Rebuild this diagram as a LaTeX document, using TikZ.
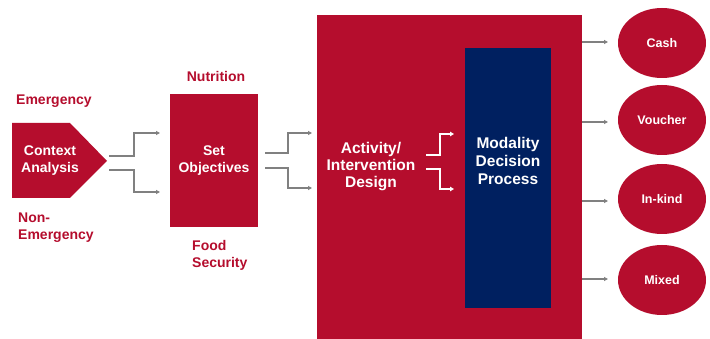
\documentclass[tikz,border=0pt]{standalone}
\usepackage{fontspec}
\setmainfont{Liberation Sans}
\usetikzlibrary{arrows.meta,shapes.geometric}
\definecolor{wfpred}{HTML}{B50D2D}
\definecolor{wfpnavy}{HTML}{002060}
\definecolor{arrgray}{HTML}{808080}
\begin{document}
\begin{tikzpicture}[x=1pt,y=-1pt,
  lbl/.style={font=\bfseries\fontsize{14}{17}\selectfont, text=wfpred, align=left, inner sep=0},
  wlbl/.style={font=\bfseries\fontsize{14}{17}\selectfont, text=white, align=center, inner sep=0},
  blbl/.style={font=\bfseries\fontsize{15.5}{18}\selectfont, text=white, align=center, inner sep=0},
  garrow/.style={draw=arrgray, line width=1.1pt, -{Triangle[length=4pt,width=4pt]}},
  warrow/.style={draw=white, line width=1.4pt, -{Triangle[length=4pt,width=4.5pt]}},
  oval/.style={ellipse, fill=wfpred, minimum width=88pt, minimum height=70pt, text=white, font=\bfseries\fontsize{12.5}{14}\selectfont, inner sep=0}]
\useasboundingbox (0,0) rectangle (710,339);
\fill[white] (0,0) rectangle (710,339);
% context pentagon
\fill[wfpred] (12,123) -- (70,123) -- (107,161) -- (70,198) -- (12,198) -- cycle;
\node[wlbl] (ctx) at (50,161) {Context\\Analysis};
\coordinate (ctxU) at (109,156);
\coordinate (ctxL) at (109,170);
\node[lbl, anchor=west] (emg) at (16,101) {Emergency};
\node[lbl, anchor=north west] (nemg) at (18,213) {Non-\\Emergency};
% set objectives
\node[fill=wfpred, minimum width=88pt, minimum height=133pt, inner sep=0] (obj) at (214,160.5) {};
\node[wlbl] (objt) at (obj.center) {Set\\Objectives};
\node[lbl] (nut) at (216,76) {Nutrition};
\node[lbl, anchor=north west] (food) at (192,240) {Food\\Security};
\coordinate (objInU) at (160,133);
\coordinate (objInL) at (160,192);
\draw[garrow] (ctxU) -- (134,156) -- (134,133) -- (objInU);
\draw[garrow] (ctxL) -- (134,170) -- (134,192) -- (objInL);
% big box
\node[fill=wfpred, minimum width=265pt, minimum height=330pt, inner sep=0, anchor=north west] (big) at (317,15) {};
\coordinate (bigInU) at (312,133);
\coordinate (bigInL) at (312,188);
\draw[garrow] (265,153) -- (288,153) -- (288,133) -- (bigInU);
\draw[garrow] (265,168) -- (288,168) -- (288,188) -- (bigInL);
\node[blbl, font=\bfseries\fontsize{15.5}{17}\selectfont] (act) at (371,167) {Activity/\\Intervention\\Design};
% navy box
\node[fill=wfpnavy, minimum width=86pt, minimum height=260pt, inner sep=0, anchor=north west] (mod) at (465,48) {};
\node[blbl] (modt) at (508,161) {Modality\\Decision\\Process};
\draw[warrow] (426,155) -- (440,155) -- (440,134) -- (454,134);
\draw[warrow] (426,169) -- (440,169) -- (440,189) -- (454,189);
% ovals
\node[oval] (cash) at (662,43) {Cash};
\node[oval] (vouch) at (662,120) {Voucher};
\node[oval] (inkind) at (662,199) {In-kind};
\node[oval] (mixed) at (662,280) {Mixed};
\draw[garrow] (582,42) -- (608,42);
\draw[garrow] (582,122) -- (608,122);
\draw[garrow] (582,201) -- (608,201);
\draw[garrow] (582,279) -- (608,279);
\end{tikzpicture}
\end{document}
